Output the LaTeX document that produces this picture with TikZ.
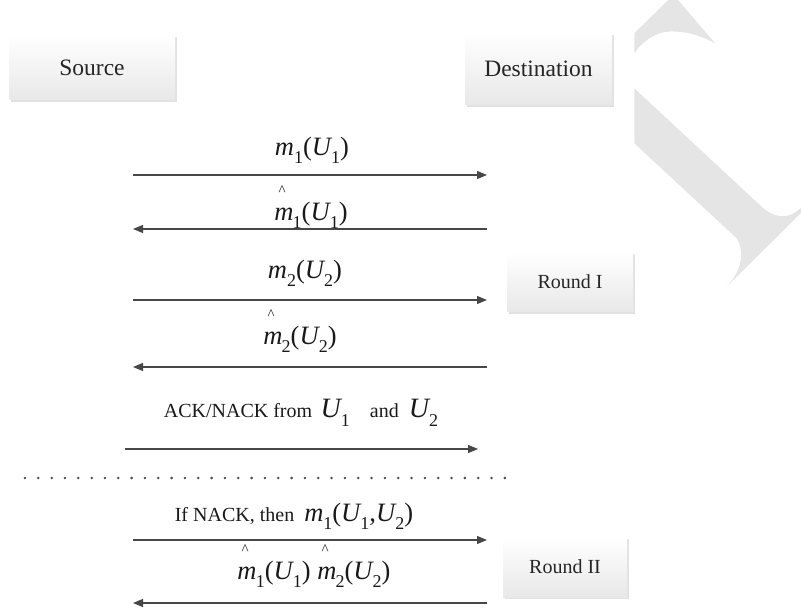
\documentclass[tikz,border=0pt]{standalone}
\usepackage{fontspec}
\setmainfont{Liberation Serif}
\usetikzlibrary{arrows.meta,shadows}
\newcommand\vm{\textit{m}}
\newcommand\vU{\textit{U}\kern-0.05em}
\newcommand\sbx[1]{\raisebox{-0.3em}{\fontsize{18}{18}\selectfont #1}}
\newcommand\hm{\makebox[0pt][l]{\raisebox{0.95em}{\hspace{0.16em}\fontsize{15}{15}\selectfont\textasciicircum}}\textit{m}\kern-0.03em}
\newcommand\mathsz{\fontsize{26.5}{26.5}\selectfont}
\begin{document}
\begin{tikzpicture}[x=1pt,y=-1pt,
  panel/.style={top color=white,bottom color=black!9,inner sep=0pt,
    drop shadow={shadow xshift=2.2pt,shadow yshift=-2.2pt,opacity=0.25,fill=black!45},
    text=black!85},
  msg/.style={draw=black!72,line width=1.1pt,-{Triangle[length=10pt,width=8pt]}},
  lbl/.style={inner sep=0pt,text=black!90},
  wm/.style={fill=black!10,draw=none}]
\useasboundingbox (0,0) rectangle (801,609);
% watermark
\fill[wm] (634.3,33.3) -- (668.3,0) -- (678,0) -- (715,43.3)
  .. controls (705,38) and (690,31) .. (670,31.5)
  .. controls (655,32) and (642,42) .. (634.3,53.3) -- cycle;
\fill[wm] (634.3,88.3) -- (761.7,206.7) .. controls (772,216) and (785,222) .. (801,208)
  -- (801,213) -- (726.7,286.7) .. controls (742,270) and (745,252) .. (736.7,238.3)
  -- (634.3,143.3) -- cycle;
% boxes
\node[panel,minimum width=166pt,minimum height=65pt,font=\fontsize{23.5}{23.5}\selectfont] (src) at (92,67.5) {Source};
\node[panel,minimum width=147pt,minimum height=72pt,font=\fontsize{23.5}{23.5}\selectfont] (dst) at (538.5,69) {Destination};
\node[panel,minimum width=126pt,minimum height=60pt,font=\fontsize{20}{20}\selectfont] (r1) at (570,282) {Round I};
\node[panel,minimum width=124pt,minimum height=60pt,font=\fontsize{20}{20}\selectfont] (r2) at (565,567) {Round II};
% endpoints
\coordinate (a1) at (133,175); \coordinate (b1) at (487,175);
\coordinate (a2) at (133,229); \coordinate (b2) at (487,229);
\coordinate (a3) at (133,300); \coordinate (b3) at (487,300);
\coordinate (a4) at (133,367); \coordinate (b4) at (487,367);
\coordinate (a5) at (125,449); \coordinate (b5) at (478,449);
\coordinate (a6) at (133,540); \coordinate (b6) at (487,540);
\coordinate (a7) at (133,603); \coordinate (b7) at (487,603);
\draw[msg] (a1) -- (b1);
\draw[msg] (b2) -- (a2);
\draw[msg] (a3) -- (b3);
\draw[msg] (b4) -- (a4);
\draw[msg] (a5) -- (b5);
\draw[msg] (a6) -- (b6);
\draw[msg] (b7) -- (a7);
% labels
\node[lbl,font=\mathsz] (l1) at (312,150) {\vm\sbx{1}(\vU\sbx{1})};
\node[lbl,font=\mathsz] (l2) at (311,207) {\hm\sbx{1}(\vU\sbx{1})};
\node[lbl,font=\mathsz] (l3) at (305,273) {\vm\sbx{2}(\vU\sbx{2})};
\node[lbl,font=\mathsz] (l4) at (300,331) {\hm\sbx{2}(\vU\sbx{2})};
\node[lbl,font=\fontsize{20}{20}\selectfont] (l5) at (301,413)
  {ACK/NACK from \,{\fontsize{28}{28}\selectfont\vU\sbx{1}}\quad and \ {\fontsize{28}{28}\selectfont\vU\sbx{2}}};
\node[lbl,font=\fontsize{20}{20}\selectfont] (l6) at (294,516)
  {If NACK, then \ {\mathsz\vm\sbx{1}(\vU\sbx{1},\vU\sbx{2})}};
\node[lbl,font=\mathsz] (l7) at (314,566) {\hm\sbx{1}(\vU\sbx{1}) \hm\sbx{2}(\vU\sbx{2})};
% dotted separator
\foreach \i in {0,...,36} \fill[black!70] ({25+\i*13.33},478) circle (1.4pt);
\end{tikzpicture}
\end{document}
